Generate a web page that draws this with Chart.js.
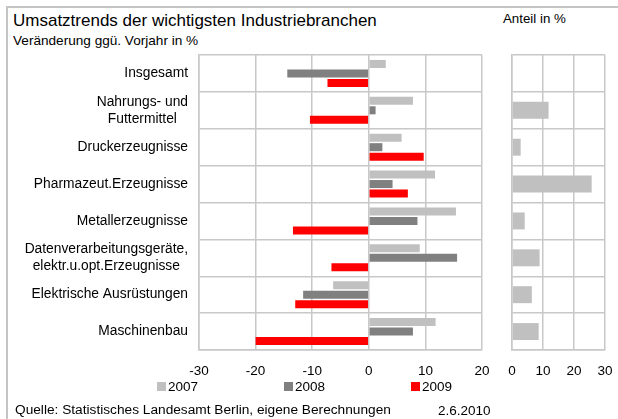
<!DOCTYPE html>
<html>
<head>
<meta charset="utf-8">
<script src="https://cdn.jsdelivr.net/npm/chart.js@4/dist/chart.umd.min.js"></script>
<style>
  html, body { margin:0; padding:0; background:#fff; }
  body { width:618px; height:419px; position:relative; overflow:hidden; font-family:"Liberation Sans", Arial, sans-serif; color:#000; }
  .t { position:absolute; white-space:nowrap; }
  #frameTop { position:absolute; left:6px; top:6px; width:612px; height:0; border-top:2px solid #c4c4c4; }
  #frameLeft { position:absolute; left:6px; top:6px; width:0; height:413px; border-left:2px solid #c4c4c4; }
  #cA { position:absolute; left:0; top:0; }
  #cB { position:absolute; left:500px; top:0; }
  .sw { position:absolute; width:9px; height:9px; }
</style>
</head>
<body>
<div id="frameTop"></div>
<div id="frameLeft"></div>
<div class="t" style="left:13px; top:10px; font-size:17px; line-height:22px;">Umsatztrends der wichtigsten Industriebranchen</div>
<div class="t" style="left:13px; top:33px; font-size:13.6px; line-height:16px;">Veränderung ggü. Vorjahr in %</div>
<div class="t" style="left:503px; top:11px; font-size:13.3px; line-height:16px;">Anteil in %</div>
<canvas id="cA" width="500" height="380"></canvas>
<canvas id="cB" width="118" height="380"></canvas>
<div id="legend"></div>
<div class="t" style="left:15px; top:401px; font-size:13.7px; line-height:17px;">Quelle: Statistisches Landesamt Berlin, eigene Berechnungen</div>
<div class="t" style="left:438px; top:402px; font-size:13.5px; line-height:17px;">2.6.2010</div>
<script>
// ---- data ----
const categories = [
  ["Insgesamt"],
  ["Nahrungs- und", "Futtermittel"],
  ["Druckerzeugnisse"],
  ["Pharmazeut.Erzeugnisse"],
  ["Metallerzeugnisse"],
  ["Datenverarbeitungsgeräte,", "elektr.u.opt.Erzeugnisse"],
  ["Elektrische Ausrüstungen"],
  ["Maschinenbau"]
];
const seriesNames = ["2007", "2008", "2009"];
const values2007 = [3.0, 7.8, 5.8, 11.7, 15.4, 9.0, -6.3, 11.8];
const values2008 = [-14.4, 1.2, 2.4, 4.2, 8.6, 15.6, -11.6, 7.8];
const values2009 = [-7.3, -10.4, 9.7, 6.9, -13.4, -6.6, -13.0, -20.0];
const anteil = [null, 11.8, 2.8, 25.7, 4.1, 8.9, 6.4, 8.6];
const changeTicks = [-30, -20, -10, 0, 10, 20];
const shareTicks = [0, 10, 20, 30];

const seriesColors = ["#c0c0c0", "#808080", "#ff0000"];
const FONT = "'Liberation Sans', Arial, sans-serif";
const gridColor = "#c8c8c8";

// category label plugin (lines centered among themselves, block right-aligned)
const catLabels = {
  id: 'catLabels',
  afterDraw(chart) {
    const ctx = chart.ctx;
    const ys = chart.scales.y;
    ctx.save();
    ctx.font = "13.8px " + FONT;
    ctx.fillStyle = "#000";
    ctx.textBaseline = "middle";
    ctx.textAlign = "center";
    const rightEdge = 188;
    const lh = 17;
    categories.forEach((lines, i) => {
      const yc = ys.getPixelForValue(i);
      const maxW = Math.max(...lines.map(l => ctx.measureText(l).width));
      const xc = rightEdge - maxW / 2;
      lines.forEach((l, k) => {
        ctx.fillText(l, xc, yc + (k - (lines.length - 1) / 2) * lh);
      });
    });
    ctx.restore();
  }
};

const labelsJoined = categories.map(c => c.join(" "));

function xFit(s) { s.height = 30; s.paddingLeft = 0; s.paddingRight = 0; }

new Chart(document.getElementById('cA'), {
  type: 'bar',
  data: {
    labels: labelsJoined,
    datasets: [values2007, values2008, values2009].map((v, i) => ({
      label: seriesNames[i],
      data: v,
      backgroundColor: seriesColors[i],
      borderWidth: 0,
      categoryPercentage: 0.77,
      barPercentage: 0.85
    }))
  },
  options: {
    indexAxis: 'y',
    responsive: false,
    animation: false,
    layout: { padding: { left: 0, right: 18, top: 55, bottom: 0 } },
    plugins: { legend: { display: false }, tooltip: { enabled: false } },
    scales: {
      x: {
        min: changeTicks[0], max: changeTicks[changeTicks.length - 1],
        afterBuildTicks: s => { s.ticks = changeTicks.map(v => ({ value: v })); },
        grid: { color: gridColor, lineWidth: 1.5, drawTicks: false },
        border: { display: true, color: gridColor, width: 1.5 },
        ticks: { color: "#000", font: { family: FONT, size: 13.5 }, padding: 13, maxRotation: 0 },
        afterFit: xFit
      },
      y: {
        grid: { color: gridColor, lineWidth: 1.5, drawTicks: false, offset: true },
        border: { display: true, color: gridColor, width: 1.5 },
        ticks: { display: false },
        afterFit: s => { s.width = 199; }
      }
    }
  },
  plugins: [catLabels]
});

new Chart(document.getElementById('cB'), {
  type: 'bar',
  data: {
    labels: labelsJoined,
    datasets: [{
      label: "Anteil in %",
      data: anteil,
      backgroundColor: "#c0c0c0",
      borderWidth: 0,
      categoryPercentage: 0.5,
      barPercentage: 0.92
    }]
  },
  options: {
    indexAxis: 'y',
    responsive: false,
    animation: false,
    layout: { padding: { left: 0, right: 13, top: 55, bottom: 0 } },
    plugins: { legend: { display: false }, tooltip: { enabled: false } },
    scales: {
      x: {
        min: shareTicks[0], max: shareTicks[shareTicks.length - 1],
        afterBuildTicks: s => { s.ticks = shareTicks.map(v => ({ value: v })); },
        grid: { color: gridColor, lineWidth: 1.5, drawTicks: false },
        border: { display: true, color: gridColor, width: 1.5 },
        ticks: { color: "#000", font: { family: FONT, size: 13.5 }, padding: 13, maxRotation: 0 },
        afterFit: xFit
      },
      y: {
        grid: { color: gridColor, lineWidth: 1.5, drawTicks: false, offset: true },
        border: { display: true, color: gridColor, width: 1.5 },
        ticks: { display: false },
        afterFit: s => { s.width = 12; }
      }
    }
  }
});

// legend (HTML)
const legendX = [157, 284, 411];
const lg = document.getElementById('legend');
seriesNames.forEach((n, i) => {
  const sw = document.createElement('div');
  sw.className = 'sw';
  sw.style.left = legendX[i] + 'px';
  sw.style.top = '382px';
  sw.style.background = seriesColors[i];
  lg.appendChild(sw);
  const tx = document.createElement('div');
  tx.className = 't';
  tx.style.left = (legendX[i] + 11) + 'px';
  tx.style.top = '378px';
  tx.style.fontSize = '13.5px';
  tx.style.lineHeight = '17px';
  tx.textContent = n;
  lg.appendChild(tx);
});
</script>
</body>
</html>
